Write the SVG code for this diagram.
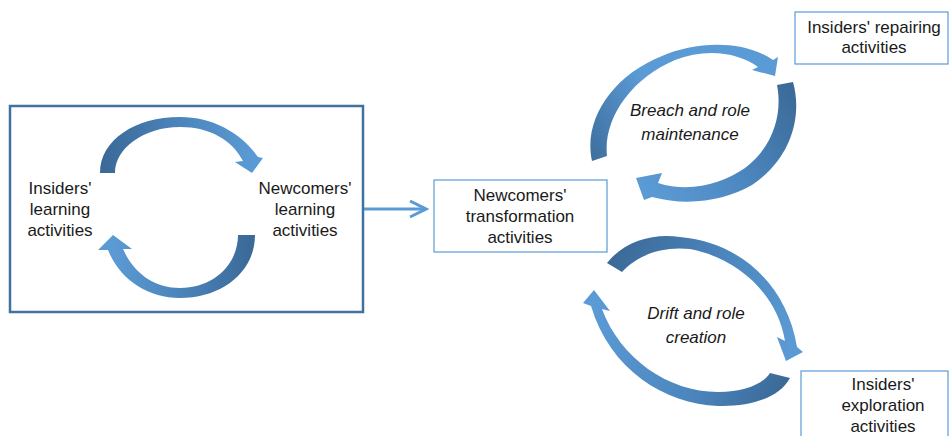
<svg xmlns="http://www.w3.org/2000/svg" width="949" height="436" viewBox="0 0 949 436">
<style>
text{font-family:"Liberation Sans",Arial,sans-serif;font-size:17px;fill:#1a1a1a;text-anchor:middle}
.it{font-style:italic}
.box{fill:#fff;stroke:#5b9bd5;stroke-width:1.2}
.big{fill:#fff;stroke:#41719c;stroke-width:2.5}
.conn{fill:none;stroke:#5b9bd5;stroke-width:3}
</style>
<defs>
<marker id="open" markerWidth="20" markerHeight="20" refX="17" refY="9" orient="auto" markerUnits="userSpaceOnUse">
<path d="M1,1 L17,9 L1,17" fill="none" stroke="#5b9bd5" stroke-width="3"/>
</marker>
<linearGradient id="gTL" gradientUnits="userSpaceOnUse" x1="105" y1="160" x2="255" y2="160"><stop offset="0" stop-color="#3b6a98"/><stop offset="0.45" stop-color="#4a82b8"/><stop offset="1" stop-color="#5b9bd5"/></linearGradient>
<linearGradient id="gBL" gradientUnits="userSpaceOnUse" x1="250" y1="250" x2="110" y2="250"><stop offset="0" stop-color="#3b6a98"/><stop offset="0.45" stop-color="#4a82b8"/><stop offset="1" stop-color="#5b9bd5"/></linearGradient>
<linearGradient id="gBU" gradientUnits="userSpaceOnUse" x1="595" y1="160" x2="775" y2="60"><stop offset="0" stop-color="#3f70a0"/><stop offset="0.4" stop-color="#5b9bd5"/><stop offset="1" stop-color="#5b9bd5"/></linearGradient>
<linearGradient id="gBD" gradientUnits="userSpaceOnUse" x1="790" y1="85" x2="645" y2="190"><stop offset="0" stop-color="#3b6a98"/><stop offset="0.5" stop-color="#4c86be"/><stop offset="1" stop-color="#5b9bd5"/></linearGradient>
<linearGradient id="gDU" gradientUnits="userSpaceOnUse" x1="610" y1="265" x2="795" y2="350"><stop offset="0" stop-color="#3b6a98"/><stop offset="0.5" stop-color="#4c86be"/><stop offset="1" stop-color="#5b9bd5"/></linearGradient>
<linearGradient id="gDD" gradientUnits="userSpaceOnUse" x1="785" y1="380" x2="595" y2="300"><stop offset="0" stop-color="#3b6a98"/><stop offset="0.4" stop-color="#4c86be"/><stop offset="1" stop-color="#5b9bd5"/></linearGradient>
</defs>

<g id="learning-box">
<rect class="big" x="10" y="106" width="353" height="206"/>
<path fill="url(#gTL)" d="M100,173 C100,140 135,117 180,117 C214,117 242,134 258,157 L263,158 L252,173 L235,162 L243,161 C232,140 210,127 180,127 C144,127 115,148 115,173 Z"/>
<path fill="url(#gBL)" d="M255,235 C255,272 222,298 180,298 C148,298 120,280 108,250 L98,250 L113,235 L132,249 L123,249 C134,274 155,288 180,288 C214,288 238,264 238,235 Z"/>
</g>
<g id="insiders-learning">
<text x="60" y="194">Insiders'</text>
<text x="60" y="215">learning</text>
<text x="60" y="236">activities</text>
</g>
<g id="newcomers-learning">
<text x="305" y="194">Newcomers'</text>
<text x="305" y="215">learning</text>
<text x="305" y="236">activities</text>
</g>

<g id="newcomers-transformation">
<rect class="box" x="434" y="180" width="173" height="72"/>
<text x="520" y="201">Newcomers'</text>
<text x="520" y="222">transformation</text>
<text x="520" y="243">activities</text>
</g>

<g id="insiders-repairing">
<rect class="box" x="795" y="12" width="153" height="52"/>
<text x="874" y="33">Insiders' repairing</text>
<text x="874" y="53">activities</text>
</g>

<g id="insiders-exploration">
<rect class="box" x="801" y="371" width="147" height="70"/>
<text x="883" y="390">Insiders'</text>
<text x="883" y="411">exploration</text>
<text x="883" y="432">activities</text>
</g>

<g id="breach-loop">
<path fill="url(#gBU)" d="M592,161 C583,120 612,76 662,56 C693,43 740,38 773,60 L778,57 L775,76 L752,70 L758,67 C738,52 705,48 675,60 C632,78 603,118 607,156 Z"/>
<path fill="url(#gBD)" d="M793,82 C803,118 790,160 752,185 C725,200 690,207 652,197 L644,200 L636,178 L662,173 L658,183 C690,193 722,184 745,168 C772,148 783,115 777,85 Z"/>
<text class="it" x="690" y="116">Breach and role</text>
<text class="it" x="690" y="140">maintenance</text>
</g>

<g id="drift-loop">
<path fill="url(#gDU)" d="M607,263 C625,240 655,233 680,237 C740,242 787,285 797,347 L803,352 L786,361 L777,337 L785,341 C778,295 738,258 690,249 C660,246 637,256 622,272 Z"/>
<path fill="url(#gDD)" d="M790,378 C780,397 752,407 718,406 C665,404 610,370 591,306 L583,303 L594,290 L610,311 L602,309 C620,358 668,392 718,392 C745,392 763,384 770,373 Z"/>
<text class="it" x="696" y="319">Drift and role</text>
<text class="it" x="696" y="343">creation</text>
</g>

<g id="connectors">
<line class="conn" x1="364" y1="209" x2="426" y2="209" marker-end="url(#open)"/>
</g>
</svg>
